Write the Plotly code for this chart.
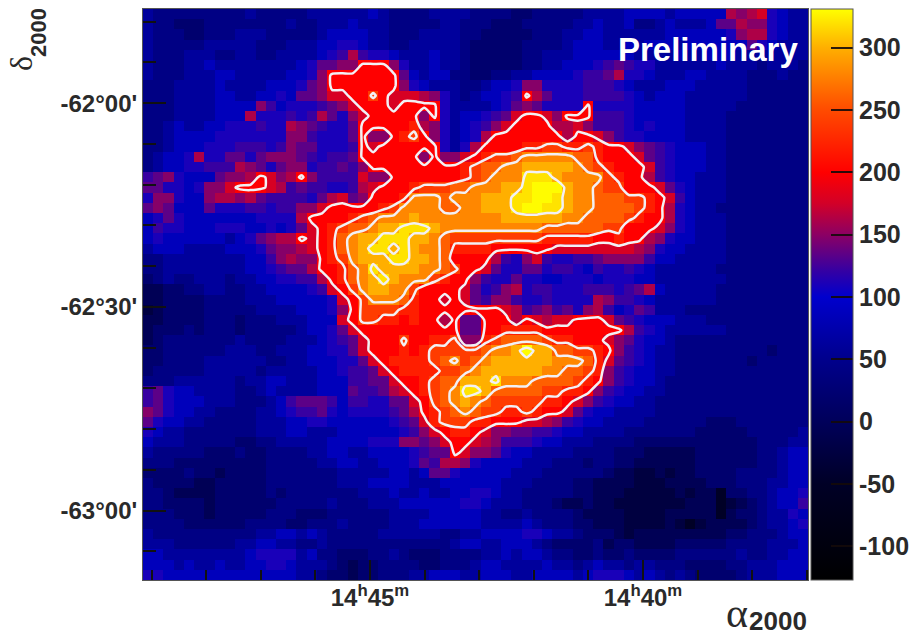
import plotly.graph_objects as go

W, H = 912, 637
PL, PR, PT, PB = 143, 808, 9, 580

level_codes = "abcdefghijklmnopqrstu"
level_values = [-50, -25, -5, 20, 42, 62, 86, 110, 122, 134, 148, 162, 178, 200, 220, 240, 260, 280, 300, 320, 330]

rows = [
"feeee eeeee feeee effff ffgfe eeeff ffeee eddee eeeff ffggg gfggg gglkl mhgff",
"feedd deeee eeeef eefff gfffe eeeef feeed ddeee eeffg ffgee fgfff gjjlk khgff",
"feeed deeef ffeee eefgg ggffe eefff feedd dddee effgg fffff fgggg gghkl lhgff",
"feeee effff feeef ffggh hgffe effff feddd ddeee efggg ffgfg ggfgg ggggj hgfff",
"feeef ffeef feeff ffghi lihhg fffgf feddd ddeef ffggg gggff ffgff gggff fffff",
"feeef fgfff fffff ghjjk knnnk hffgf feddd ddeef fgggh ijihh fffff fgfff efffe",
"feeef ffggf ffffg ghknn nnnnn jgfgg eedde effgg gghii jlhhg fffgg ffffe eefee",
"eeeff ffgff ffggg hjknn nnnnn khgff feefg ghkkh hhhii ihgff fgggf ffffe eeeee",
"eeeff ffggf fgghg jjkmm nnpnm mmlkh fefgg hinlj hhhii iihgf gggff ffffe eeeee",
"eeeff ffggg gkigh hhijk mnnnm nnnnh ffffg hjkjh hhhnh hhhgg gggff fffee eeeee",
"eeeff ffggg lhhhi hiljh kmnnn nnknh fgghi jmnnm knnni iihgg gggff ffeee eeeee",
"eefgf fgghh hihhl kjihh jnnnn nolkh fghik mnnnn llmki iihgh gggff ffeee eeeee",
"eefgg gghhh hhhhk kihhh jnkkn opnkh fghln nnnnn nlnnm kihhg gggff ffeee eeeee",
"eefgg ghhhi iihik jjhhh inmnn nnnnh fhlnn nnoop poopo nnmkj ihggg ffeee eeeee",
"efggh lhhjj hjkkk jihii jnnnn nnknk kmnop pqrrr rrqqo nnnmj ihggg ffeee eeeee",
"efggh hiiil kjhjk khiij iknnn nnnnn nopqq rrsss ssrqp onnnm ihggg ffeee eeeee",
"ijkhg ggjkk lnmkl nkiii imkkn nnnnn nopqr rrttt srrrr ponnl ihggf ffeee eeeee",
"jjhhg hkkmn nnmli jiihh ilmnn noppp qqrrr sstuu usrrq ppnnn mjhgf ffeee eeeee",
"hkkhg gkllk ljiii ihjlm jknnn orrrq rrrss sttuu tsrrq qqppo nmigf ffeee eeeee",
"jkjgg gjhhh iihii kkmnn nnnop rrrrq qrrss stuut tsrrq qqqpo nlhgf feeee eeeee",
"ghjhg ggggg ghhhh lnnnn opqrr rsrrr rrrrr sssss srrqq qqpon nlhgf ffeee eeeee",
"gihhg gghhh gghgh jmnop qqrss tttsr rrrrr rrrrq qqqqq ppnnn mkhgf ffeee eeeee",
"ghggg gggfg hjkll nmnoq rsstt tssrq ppppp ppppo oooon nonnl khggf ffeee eeeee",
"fgggf fffgg ghjkk lmnoq rstts tsrrq oooon nnnnn mmmmm mmmlk hggff ffeee eeeee",
"eefff fffff ggikl kknop rssst tssrq nnnnl ihkmi hhiij kkkki ggfff ffeee eeeee",
"eefff fffff gghij jlnno qrtss ssrrq pnnmj hhjjh iihgi hhihg fffff feeee eeeee",
"defee fffef fgghh iilno qrsts rrrpo nnkih hjhhg ghhhg hhhgg fffff ffeee eeeee",
"ccdde effee ffggg ghimn prssr rpnnn nmjhi klhii hhhii ihijl gffff feeee eeeee",
"ccddd deeee fffgg ggghm nprrr qonnm nmjik kihhi hhhhl kiihg fffff feeee eeeee",
"bcddd deeee effff ggghk npppp oonnn nnnnn mlijk ijhkl ighji fffee eeeee eeeee",
"ccddd deeed eeeff fgggm nppoo nonnl njjnn nlnml mmnnn mjihg ggfff eeeee eeeee",
"cddde deeed eeeee fgghj mnnnn nnnnn njjnn oooon nnnnn nnlih gffff ffeee eeeee",
"cdeee eeeef eeeef ffghi jmnnn pnnoo pkkop qqqqp oonnn mkjhg gfeee eeeee eeeee",
"ddeee eeeff feeff fgghh jmnnn onopp pppqr rsuss qqppo nkihg ffeee eeeee edeee",
"ddeee effff ffeef fgggh hjmno ooopq rpqrs sssss rrrqo mjihg ffeee eeeed eeeee",
"deeee effff fefff ffggh iijmn oooop pqrss ssssr rqqpo kihgg ffeee eeeee eeeee",
"eeeff ffffe ffggf ffggg iijjm nnopq qssst rrrqq qqpon kihgg feeee eeeee eeeee",
"ijhgg ffffe efgff ffggg jiijl mnopq rttsq qqqqp poonk ihggf feeee eeeee eeeee",
"ijhgg gfffe eefgi jjjig iihhj jmnpq rsrqp ppppo onmki hggff eeeee eeeee eeeee",
"kjhgg ffeee effgh iijhg hhhhi jlnop qrqpp oopon nmjhg gffff eeeee eeeee eeeee",
"jhggf feeee efffg ghhgg ggggh ijmop ppoon nnmml kihgg ffffe eeeee dddee eeeee",
"hgffe eeeee efffg gfffg ggggg hikmn oonmk kjjii hggff ffeee eeeed dddde eeeef",
"gfffe eeeed deeff fffgg gghhh kkjkm nnmlk iiihg gfffe eeedd ddddd ddddd eeeff",
"feeee eddde ddeee effgg ffggg ghijj nmkkj hggff ffeee edddc ccccd ddddd eefgg",
"eeedd ddddd ddeee eeffg gffgg ghjil lkhgg ggfff eeede eddcc ccccd ddddd eefgg",
"dddde ddcdd ddeee eeeef ffffg gfgjj hgggg gfffe eeeee dccbb cbccd dddee eefgg",
"edddd ccddd ddeee eeeef ffggg gfffg ggggg fffee eeddc cccbb bcccc dddee effgg",
"eedcc ccddd ddede eeeee efffg ffgff gghhg ffeee eeddc ccbbb bbcbc cadde efggh",
"eeddd dcddd dddee eeefe eefff ggggg ghhgf ffeee dccdc cbbbb bbbcc cabcd efggi",
"eeedd dcddd ddeee dddee eeeef fffgg gggff eefee eedcc ccbbb bcccc cacdd effhg",
"eeeed ddddd eeeed deeef eeeef ffggg gggff ffgfe eeddc ccbbb bcbab ccccd effgh",
"feeee eeeee effgg fgfee eeeff ffffe effgg gghhg ffedd dcbcc ccccc ccdde eefgg",
"fffee eeeef fggff eefee eeeee eeeee fggff gggfe dddde cddcc ccddd ddeee efffg",
"ggfff fffff ghhhh fgeed ddeef eddde eeeff gfggf eedde ddedd ddeee eeefe effgg",
"gggfg ffgff gghhg fffed cddee eedde eefgg ffffg ffefg ffeff eeedd ddeef ffggg",
"hhggg ggggg ggggg ffedd cddee effgg gffgg gffgg ggfgh hhgfg fefed dddef ffggg",
]

contour_levels = (190, 310, 40)
color_stops = [(-127, "rgb(0,0,0)"), (-50, "rgb(0,0,38)"), (0, "rgb(0,0,90)"), (50, "rgb(0,0,140)"),
               (100, "rgb(0,0,205)"), (120, "rgb(50,0,165)"), (150, "rgb(140,0,100)"), (175, "rgb(210,0,40)"),
               (200, "rgb(255,0,0)"), (250, "rgb(255,75,0)"), (300, "rgb(255,175,0)"), (331, "rgb(255,255,0)")]
cb_ticks = [-100, -50, 0, 50, 100, 150, 200, 250, 300]
cb_labels = ["-100", "-50", "0", "50", "100", "150", "200", "250", "300"]
x_major = [45, 40]
x_labels = ["14<sup>h</sup>45<sup>m</sup>", "14<sup>h</sup>40<sup>m</sup>"]
y_major = [0, -30, -60]
y_labels = ["-62°00'", "-62°30'", "-63°00'"]

value_of = dict(zip(level_codes, level_values))
z = [[value_of[ch] for ch in r.replace(" ", "")] for r in rows]
for i, r in enumerate(z):
    assert len(r) == 65, (i, len(r))
assert len(z) == 56

x0, x1 = 49.157, 36.978
y0, y1 = 13.86, -70.2
nx, ny = 65, 56
xc = [x0 + (x1 - x0) * (i + .5) / nx for i in range(nx)]
yc = [y0 + (y1 - y0) * (j + .5) / ny for j in range(ny)]

zmin, zmax = -127, 331
cs = [[(v - zmin) / (zmax - zmin), c] for v, c in color_stops]

fig = go.Figure()
fig.add_trace(go.Heatmap(
    x=xc, y=yc, z=z, zmin=zmin, zmax=zmax, colorscale=cs, hoverinfo="skip",
    colorbar=dict(x=811 / W, xanchor="left", xpad=0, ypad=0, y=1 - PT / H, yanchor="top",
                  lenmode="pixels", len=PB - PT, thicknessmode="pixels", thickness=42,
                  outlinewidth=1, outlinecolor="#555", tickmode="array", tickvals=cb_ticks, ticktext=cb_labels,
                  ticks="inside", ticklen=22, tickwidth=2, tickcolor="rgba(20,10,10,0.9)",
                  tickfont=dict(family="Liberation Sans", size=25, color="#2a2a2a", weight=700)),
))
fig.add_trace(go.Contour(
    x=xc, y=yc, z=z, autocontour=False, showscale=False, hoverinfo="skip",
    contours=dict(coloring="none", start=contour_levels[0], end=contour_levels[1], size=contour_levels[2]),
    line=dict(color="#f2f0f4", width=2.5, smoothing=0.6),
))

tick_font = dict(family="Liberation Sans", size=24, color="#2a2a2a", weight=700)
fig.update_layout(
    width=W, height=H, paper_bgcolor="white", plot_bgcolor="white", showlegend=False,
    margin=dict(l=0, r=0, t=0, b=0, autoexpand=False),
    xaxis=dict(domain=[PL / W, PR / W], range=[x0, x1], showgrid=False, zeroline=False,
               showline=True, mirror=True, linecolor="#555", linewidth=1,
               tickmode="array", tickvals=x_major, ticktext=x_labels, ticks="inside", ticklen=20,
               tickwidth=2, tickcolor="#111", tickfont=tick_font, ticklabelstandoff=-4,
               minor=dict(dtick=1, tick0=0, ticks="inside", ticklen=10, tickwidth=2, tickcolor="#111", showgrid=False)),
    yaxis=dict(domain=[1 - PB / H, 1 - PT / H], range=[y1, y0], showgrid=False, zeroline=False,
               showline=True, mirror=True, linecolor="#555", linewidth=1,
               tickmode="array", tickvals=y_major, ticktext=y_labels, ticks="inside", ticklen=23,
               tickwidth=2, tickcolor="#111", tickfont=tick_font,
               minor=dict(dtick=6, tick0=0, ticks="inside", ticklen=13, tickwidth=2, tickcolor="#111", showgrid=False)),
    annotations=[
        dict(text="<b>Preliminary</b>", x=708 / W, y=1 - 50 / H, xref="paper", yref="paper", showarrow=False,
             xanchor="center", yanchor="middle", font=dict(family="Liberation Sans", size=33, color="white")),
        dict(text="α", x=737 / W, y=1 - 613 / H, xref="paper", yref="paper", showarrow=False,
             xanchor="center", yanchor="middle", font=dict(family="Liberation Serif", size=42, color="#2a2a2a")),
        dict(text="<b>2000</b>", x=778 / W, y=1 - 621 / H, xref="paper", yref="paper", showarrow=False,
             xanchor="center", yanchor="middle", font=dict(family="Liberation Sans", size=26, color="#2a2a2a")),
        dict(text="δ", x=21 / W, y=1 - 64 / H, xref="paper", yref="paper", showarrow=False, textangle=-90,
             xanchor="center", yanchor="middle", font=dict(family="Liberation Serif", size=32, color="#2a2a2a")),
        dict(text="<b>2000</b>", x=38 / W, y=1 - 33 / H, xref="paper", yref="paper", showarrow=False, textangle=-90,
             xanchor="center", yanchor="middle", font=dict(family="Liberation Sans", size=22, color="#2a2a2a")),
    ],
)
fig.write_html("out.html", config={"displayModeBar": False},
               post_script="document.body.style.margin='0';document.body.style.overflow='hidden';")
